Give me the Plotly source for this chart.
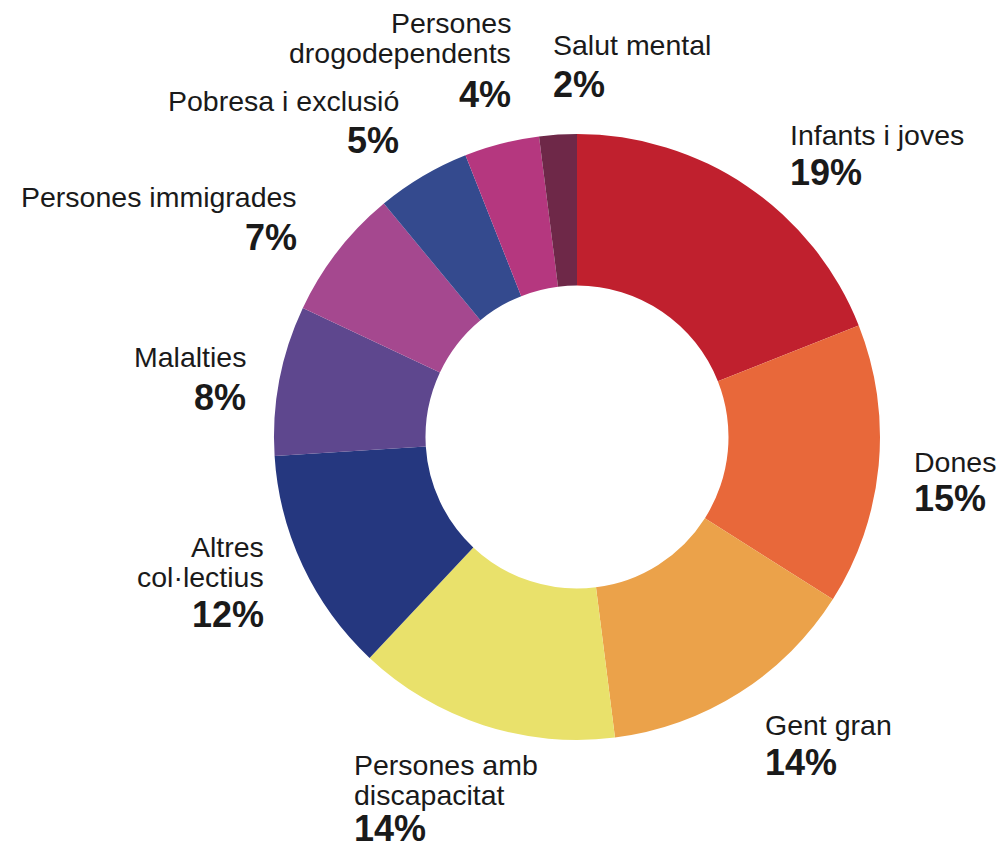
import plotly.graph_objects as go

# ---- data ----
categories = [
    "Infants i joves", "Dones", "Gent gran", "Persones amb<br>discapacitat",
    "Altres<br>col·lectius", "Malalties", "Persones immigrades",
    "Pobresa i exclusió", "Persones<br>drogodependents", "Salut mental",
]
values = [19, 15, 14, 14, 12, 8, 7, 5, 4, 2]
pct_labels = ["19%", "15%", "14%", "14%", "12%", "8%", "7%", "5%", "4%", "2%"]

# ---- styles ----
colors = ["#C0202E", "#E8683A", "#EBA24A", "#E9E16B", "#25377F",
          "#5E478E", "#A5488F", "#344A8E", "#B5377F", "#6E2848"]

W, H = 999, 849
CX, CY, R = 577, 437, 303  # pie centre / radius in pixels

# label placement (pixels): anchor x, alignment, name line centres, pct centre
label_layout = [
    (788, "left", [135], 172),
    (912, "left", [462], 499),
    (763, "left", [725], 762),
    (352, "left", [765, 795], 828),
    (266, "right", [547, 577], 614),
    (248, "right", [357], 397),
    (299, "right", [197], 237),
    (401, "right", [101], 140),
    (513, "right", [23, 53], 94),
    (551, "left", [45], 84),
]

NAME_FONT = dict(family="Liberation Sans, Arial, sans-serif", size=28.5, color="#1a1a1a")
PCT_FONT = dict(family="Liberation Sans, Arial, sans-serif", size=36, color="#1a1a1a")

fig = go.Figure(go.Pie(
    labels=[c.replace("<br>", " ") for c in categories],
    values=values,
    hole=0.5,
    sort=False,
    direction="clockwise",
    rotation=0,
    marker=dict(colors=colors, line=dict(width=0)),
    textinfo="none",
    hoverinfo="label+percent",
    showlegend=False,
    domain=dict(x=[(CX - R) / W, (CX + R) / W],
                y=[(H - CY - R) / H, (H - CY + R) / H]),
))

annotations = []
for cat, pct, (lx, align, line_ys, pct_y) in zip(categories, pct_labels, label_layout):
    for line, ly in zip(cat.split("<br>"), line_ys):
        annotations.append(dict(
            x=lx / W, y=1 - ly / H, xref="paper", yref="paper",
            text=line, showarrow=False, xanchor=align, yanchor="middle",
            align=align, font=NAME_FONT,
        ))
    annotations.append(dict(
        x=lx / W, y=1 - pct_y / H, xref="paper", yref="paper",
        text="<b>" + pct + "</b>", showarrow=False, xanchor=align,
        yanchor="middle", align=align, font=PCT_FONT,
    ))

fig.update_layout(
    width=W, height=H,
    margin=dict(l=0, r=0, t=0, b=0),
    paper_bgcolor="white",
    plot_bgcolor="white",
    annotations=annotations,
)

fig.write_html("out.html", config={"displayModeBar": False},
               post_script="document.body.style.margin='0';")
